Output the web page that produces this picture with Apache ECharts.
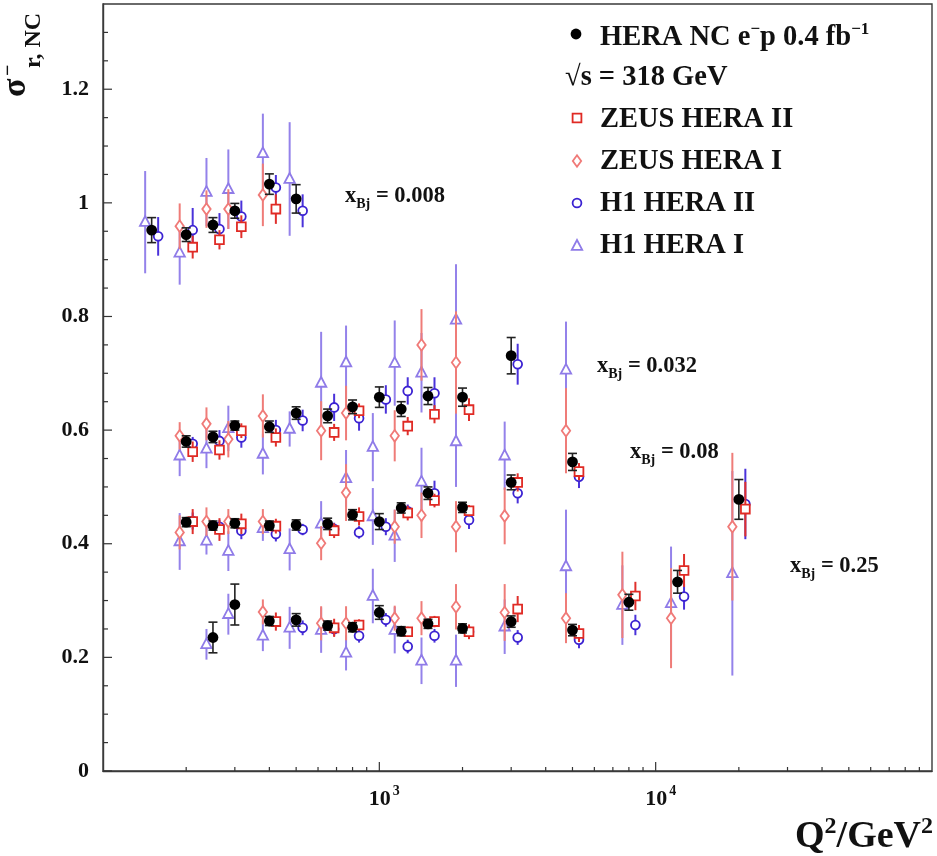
<!DOCTYPE html>
<html>
<head>
<meta charset="utf-8">
<script src="https://cdn.jsdelivr.net/npm/echarts@6/dist/echarts.min.js"></script>
<style>
  html, body { margin: 0; padding: 0; background: #fff; }
  #chart { width: 937px; height: 856px; }
</style>
</head>
<body>
<div id="chart"></div>
<script>
// Reduced NC e-p cross sections vs Q^2, four x_Bj bins.
// Each entry: [Q^2 (GeV^2), sigma_r, uncertainty]

const heraCombined = [
  // x = 0.008
  [150, 0.952, 0.022], [200, 0.944, 0.012], [250, 0.961, 0.013], [300, 0.986, 0.013], [400, 1.033, 0.018], [500, 1.007, 0.025],
  // x = 0.032
  [200, 0.580, 0.010], [250, 0.588, 0.010], [300, 0.608, 0.008], [400, 0.606, 0.010], [500, 0.630, 0.011], [650, 0.625, 0.012],
  [800, 0.641, 0.012], [1000, 0.658, 0.018], [1200, 0.637, 0.013], [1500, 0.660, 0.015], [2000, 0.658, 0.016], [3000, 0.731, 0.032],
  // x = 0.08
  [200, 0.438, 0.008], [250, 0.432, 0.008], [300, 0.436, 0.008], [400, 0.432, 0.008], [500, 0.433, 0.009], [650, 0.435, 0.010],
  [800, 0.451, 0.009], [1000, 0.439, 0.014], [1200, 0.463, 0.009], [1500, 0.489, 0.011], [2000, 0.464, 0.009], [3000, 0.508, 0.013],
  [5000, 0.544, 0.015],
  // x = 0.25
  [250, 0.235, 0.027], [300, 0.293, 0.036], [400, 0.264, 0.008], [500, 0.266, 0.011], [650, 0.256, 0.008], [800, 0.253, 0.008],
  [1000, 0.279, 0.012], [1200, 0.246, 0.008], [1500, 0.259, 0.008], [2000, 0.251, 0.008], [3000, 0.263, 0.010], [5000, 0.248, 0.010],
  [8000, 0.297, 0.014], [12000, 0.333, 0.020], [20000, 0.478, 0.035]
];

const zeusHeraII = [
  [200, 0.922, 0.020], [250, 0.935, 0.017], [300, 0.958, 0.020], [400, 0.989, 0.026],
  [200, 0.562, 0.018], [250, 0.565, 0.017], [300, 0.599, 0.013], [400, 0.587, 0.016], [650, 0.596, 0.015], [800, 0.634, 0.013],
  [1200, 0.607, 0.016], [1500, 0.628, 0.016], [2000, 0.636, 0.020],
  [200, 0.439, 0.022], [250, 0.425, 0.020], [300, 0.435, 0.018], [400, 0.431, 0.013], [650, 0.423, 0.013], [800, 0.448, 0.016],
  [1200, 0.454, 0.013], [1500, 0.476, 0.012], [2000, 0.458, 0.010], [3000, 0.508, 0.016], [5000, 0.527, 0.015],
  [400, 0.263, 0.016], [650, 0.252, 0.016], [800, 0.257, 0.010], [1200, 0.245, 0.009], [1500, 0.263, 0.010], [2000, 0.245, 0.013],
  [3000, 0.285, 0.023], [5000, 0.242, 0.015], [8000, 0.308, 0.025], [12000, 0.353, 0.029], [20000, 0.461, 0.048]
];

const zeusHeraI = [
  [200, 0.959, 0.040], [250, 0.989, 0.033], [300, 0.989, 0.035], [400, 1.014, 0.055],
  [200, 0.590, 0.024], [250, 0.611, 0.029], [300, 0.584, 0.032], [400, 0.625, 0.038], [650, 0.599, 0.052], [800, 0.630, 0.048],
  [1200, 0.590, 0.045], [1500, 0.750, 0.063], [2000, 0.719, 0.090], [5000, 0.599, 0.075],
  [200, 0.420, 0.030], [250, 0.439, 0.025], [300, 0.439, 0.022], [400, 0.439, 0.022], [650, 0.401, 0.030], [800, 0.490, 0.050],
  [1200, 0.430, 0.030], [1500, 0.450, 0.040], [2000, 0.430, 0.045], [3000, 0.449, 0.050],
  [400, 0.280, 0.022], [650, 0.260, 0.030], [800, 0.260, 0.030], [1200, 0.269, 0.022], [1500, 0.269, 0.030], [2000, 0.289, 0.040],
  [3000, 0.279, 0.050], [5000, 0.269, 0.044], [8000, 0.310, 0.076], [12000, 0.269, 0.088], [20000, 0.430, 0.130]
];

const h1HeraII = [
  [150, 0.941, 0.034], [200, 0.952, 0.039], [250, 0.954, 0.028], [300, 0.976, 0.028], [400, 1.027, 0.022], [500, 0.986, 0.029],
  [200, 0.576, 0.012], [250, 0.581, 0.019], [300, 0.587, 0.018], [400, 0.600, 0.018], [500, 0.617, 0.019], [650, 0.640, 0.024],
  [800, 0.621, 0.022], [1000, 0.654, 0.025], [1200, 0.669, 0.024], [1500, 0.665, 0.028], [3000, 0.716, 0.036],
  [200, 0.440, 0.015], [250, 0.430, 0.012], [300, 0.423, 0.015], [400, 0.417, 0.013], [500, 0.425, 0.010], [650, 0.426, 0.011],
  [800, 0.420, 0.011], [1000, 0.430, 0.015], [1200, 0.457, 0.012], [1500, 0.489, 0.022], [2000, 0.442, 0.016], [3000, 0.489, 0.018],
  [5000, 0.518, 0.020],
  [500, 0.252, 0.013], [650, 0.250, 0.012], [800, 0.238, 0.012], [1000, 0.266, 0.012], [1200, 0.219, 0.012], [1500, 0.238, 0.012],
  [2000, 0.245, 0.012], [3000, 0.235, 0.013], [5000, 0.231, 0.015], [8000, 0.257, 0.018], [12000, 0.307, 0.023], [20000, 0.470, 0.062]
];

const h1HeraI = [
  [150, 0.966, 0.090], [200, 0.912, 0.056], [250, 1.019, 0.060], [300, 1.024, 0.070], [400, 1.087, 0.070], [500, 1.042, 0.100],
  [200, 0.555, 0.036], [250, 0.567, 0.034], [300, 0.603, 0.040], [400, 0.558, 0.036], [500, 0.602, 0.031], [650, 0.683, 0.090],
  [800, 0.719, 0.065], [1000, 0.570, 0.060], [1200, 0.718, 0.075], [1500, 0.701, 0.070], [2000, 0.794, 0.098], [5000, 0.706, 0.085],
  [200, 0.404, 0.050], [250, 0.405, 0.024], [300, 0.387, 0.035], [400, 0.427, 0.022], [500, 0.390, 0.037], [650, 0.435, 0.040],
  [800, 0.515, 0.050], [1000, 0.448, 0.050], [1200, 0.414, 0.046], [1500, 0.509, 0.060], [2000, 0.580, 0.080], [3000, 0.555, 0.060],
  [250, 0.223, 0.027], [300, 0.276, 0.036], [400, 0.238, 0.027], [500, 0.252, 0.037], [650, 0.248, 0.040], [800, 0.208, 0.031],
  [1000, 0.308, 0.048], [1200, 0.248, 0.041], [1500, 0.194, 0.041], [2000, 0.194, 0.046], [3000, 0.254, 0.048], [5000, 0.360, 0.100],
  [8000, 0.292, 0.070], [12000, 0.295, 0.100], [20000, 0.348, 0.180]
];

// Axis tick labels
const yTickLabels = ['0', '0.2', '0.4', '0.6', '0.8', '1', '1.2'];
const xTickExponents = { 1000: '3', 10000: '4' };

// Bin annotations
const binLabels = ['0.008', '0.032', '0.08', '0.25'];

const FONT = '"Liberation Serif", "Times New Roman", Times, serif';
const TEXT = '#111';

const C = {
  zeus2: '#e02a24', zeus2Bar: '#e0302c',
  zeus1: '#f07a78', zeus1Bar: '#ef7c78',
  h12: '#3b22d2', h12Bar: '#4a32da',
  h11: '#8f7be8', h11Bar: '#9482ea'
};

function markerShape(kind, x, y, color) {
  const st = { stroke: color, fill: '#fff', lineWidth: 1.8 };
  switch (kind) {
    case 'dot': return { type: 'circle', shape: { cx: x, cy: y, r: 5.4 }, style: { fill: '#000' } };
    case 'square': return { type: 'rect', shape: { x: x - 4.4, y: y - 4.4, width: 8.8, height: 8.8 }, style: st };
    case 'diamond': return { type: 'polygon', shape: { points: [[x, y - 5.8], [x + 4.2, y], [x, y + 5.8], [x - 4.2, y]] }, style: st };
    case 'circle': return { type: 'circle', shape: { cx: x, cy: y, r: 4.4 }, style: st };
    case 'triangle': return { type: 'polygon', shape: { points: [[x, y - 6], [x + 5.2, y + 3.8], [x - 5.2, y + 3.8]] }, style: st };
  }
}

function measurementSeries(name, data, opt) {
  return {
    type: 'custom', name: name, data: data, z: opt.z, clip: false, silent: true,
    encode: { x: 0, y: 1 },
    renderItem: function (params, api) {
      const q = api.value(0), s = api.value(1), e = api.value(2);
      const c = api.coord([q, s]);
      const top = api.coord([q, s + e])[1];
      const bot = api.coord([q, s - e])[1];
      const x = c[0] + opt.dx;
      const kids = [{
        type: 'line', shape: { x1: x, y1: top, x2: x, y2: bot },
        style: { stroke: opt.bar, lineWidth: opt.barWidth }
      }];
      if (opt.cap) {
        kids.push({ type: 'line', shape: { x1: x - opt.cap, y1: top, x2: x + opt.cap, y2: top }, style: { stroke: opt.bar, lineWidth: opt.barWidth } });
        kids.push({ type: 'line', shape: { x1: x - opt.cap, y1: bot, x2: x + opt.cap, y2: bot }, style: { stroke: opt.bar, lineWidth: opt.barWidth } });
      }
      kids.push(markerShape(opt.symbol, x, c[1], opt.color));
      return { type: 'group', children: kids };
    }
  };
}

// Tick marks drawn inward from the axes
const xTicks = [];
[100, 1000, 10000].forEach(function (d) {
  for (let m = 2; m <= 9; m++) xTicks.push([m * d, 0, 4]);
});
xTicks.push([1000, 0, 9], [10000, 0, 9]);
const yTicks = [];
for (let i = 0; i <= 26; i++) yTicks.push([100, i * 0.05, i % 4 === 0 ? 9 : 5]);

function tickSeries(data, vertical) {
  return {
    type: 'custom', data: data, z: 1, clip: false, silent: true,
    renderItem: function (params, api) {
      const p = api.coord([api.value(0), api.value(1)]);
      const len = api.value(2);
      const shape = vertical
        ? { x1: p[0], y1: p[1], x2: p[0], y2: p[1] - len }
        : { x1: p[0], y1: p[1], x2: p[0] + len, y2: p[1] };
      return { type: 'line', shape: shape, style: { stroke: '#333', lineWidth: 1.2 } };
    }
  };
}

function binLabel(value, x, y) {
  return {
    type: 'text', x: x, y: y, z: 20,
    style: {
      text: '{m|x}{s|Bj}{m| = ' + value + '}',
      verticalAlign: 'middle', align: 'left',
      rich: {
        m: { fontFamily: FONT, fontWeight: 'bold', fontSize: 22.5, lineHeight: 30, fill: TEXT },
        s: { fontFamily: FONT, fontWeight: 'bold', fontSize: 14, lineHeight: 14, verticalAlign: 'bottom', fill: TEXT }
      }
    }
  };
}

function legendText(rich, x, y) {
  return {
    type: 'text', x: x, y: y, z: 20,
    style: {
      text: rich, verticalAlign: 'middle', align: 'left',
      rich: {
        m: { fontFamily: FONT, fontWeight: 'bold', fontSize: 28.5, lineHeight: 34, fill: TEXT },
        sp: { fontFamily: FONT, fontWeight: 'bold', fontSize: 17, lineHeight: 18, verticalAlign: 'top', fill: TEXT }
      }
    }
  };
}

function rotatedText(text, x, y, size) {
  return {
    type: 'text', x: x, y: y, rotation: Math.PI / 2, z: 20,
    style: { text: text, fontFamily: FONT, fontWeight: 'bold', fontSize: size, fill: TEXT, align: 'left', verticalAlign: 'middle' }
  };
}

const chart = echarts.init(document.getElementById('chart'), null, { renderer: 'canvas' });

chart.setOption({
  animation: false,
  backgroundColor: '#fff',
  grid: {
    left: 103, top: 4, right: 5, bottom: 85,
    show: true, borderColor: '#3a3a3a', borderWidth: 1.4,
    containLabel: false, outerBoundsMode: 'none'
  },
  xAxis: {
    type: 'log', logBase: 10, min: 100, max: 100000,
    axisLine: { show: true, lineStyle: { color: '#3a3a3a', width: 1.4 } },
    axisTick: { show: false },
    splitLine: { show: false },
    axisLabel: {
      margin: 13,
      formatter: function (v) {
        const e = xTickExponents[Math.round(v)];
        return e ? '{pad|}{b|10}{s|' + e + '}' : '';
      },
      rich: {
        pad: { width: 10, fontSize: 14 },
        b: { fontFamily: FONT, fontWeight: 'bold', fontSize: 22, lineHeight: 30, color: TEXT },
        s: { fontFamily: FONT, fontWeight: 'bold', fontSize: 14, lineHeight: 14, verticalAlign: 'top', color: TEXT, padding: [0, 0, 0, 2] }
      }
    }
  },
  yAxis: {
    type: 'value', min: 0, max: 1.35, interval: 0.05,
    axisLine: { show: true, lineStyle: { color: '#3a3a3a', width: 1.4 } },
    axisTick: { show: false },
    splitLine: { show: false },
    axisLabel: {
      margin: 14,
      fontFamily: FONT, fontWeight: 'bold', fontSize: 22, color: TEXT,
      formatter: function (v) {
        const k = Math.round(v / 0.2);
        if (Math.abs(v - k * 0.2) > 1e-6) return '';
        return yTickLabels[k] || '';
      }
    }
  },
  series: [
    tickSeries(xTicks, true),
    tickSeries(yTicks, false),
    measurementSeries('H1 HERA I', h1HeraI, { symbol: 'triangle', color: C.h11, bar: C.h11Bar, barWidth: 2, dx: -6.5, z: 2 }),
    measurementSeries('ZEUS HERA I', zeusHeraI, { symbol: 'diamond', color: C.zeus1, bar: C.zeus1Bar, barWidth: 2, dx: -6.5, z: 3 }),
    measurementSeries('H1 HERA II', h1HeraII, { symbol: 'circle', color: C.h12, bar: C.h12Bar, barWidth: 2, dx: 6.5, z: 4 }),
    measurementSeries('ZEUS HERA II', zeusHeraII, { symbol: 'square', color: C.zeus2, bar: C.zeus2Bar, barWidth: 2, dx: 6.5, z: 5 }),
    measurementSeries('HERA NC e-p 0.4 fb-1', heraCombined, { symbol: 'dot', color: '#000', bar: '#222', barWidth: 1.6, dx: 0, cap: 4.5, z: 6 })
  ],
  graphic: [
    // legend
    markerShape('dot', 576, 34, '#000'),
    legendText('{m|HERA NC e}{sp|−}{m|p 0.4 fb}{sp|−1}', 600, 38),
    legendText('{m|√s = 318 GeV}', 565, 78),
    markerShape('square', 577, 118, C.zeus2),
    legendText('{m|ZEUS HERA II}', 600, 120),
    markerShape('diamond', 577, 161, C.zeus1),
    legendText('{m|ZEUS HERA I}', 600, 162),
    markerShape('circle', 577, 203, C.h12),
    legendText('{m|H1 HERA II}', 600, 204),
    markerShape('triangle', 577, 246, C.h11),
    legendText('{m|H1 HERA I}', 600, 246),
    // bin annotations
    binLabel(binLabels[0], 345, 196),
    binLabel(binLabels[1], 597, 366),
    binLabel(binLabels[2], 630, 452),
    binLabel(binLabels[3], 790, 566),
    // x-axis title
    {
      type: 'text', x: 933, y: 837, z: 20,
      style: {
        text: '{m|Q}{s|2}{m|/GeV}{s|2}', align: 'right', verticalAlign: 'middle',
        rich: {
          m: { fontFamily: FONT, fontWeight: 'bold', fontSize: 38, lineHeight: 44, fill: TEXT },
          s: { fontFamily: FONT, fontWeight: 'bold', fontSize: 24, lineHeight: 26, verticalAlign: 'top', fill: TEXT }
        }
      }
    },
    // y-axis title, reading bottom to top
    rotatedText('σ', 16, 97, 34),
    rotatedText('−', 9, 76, 20),
    rotatedText('r, NC', 34, 68, 24)
  ]
});
</script>
</body>
</html>
